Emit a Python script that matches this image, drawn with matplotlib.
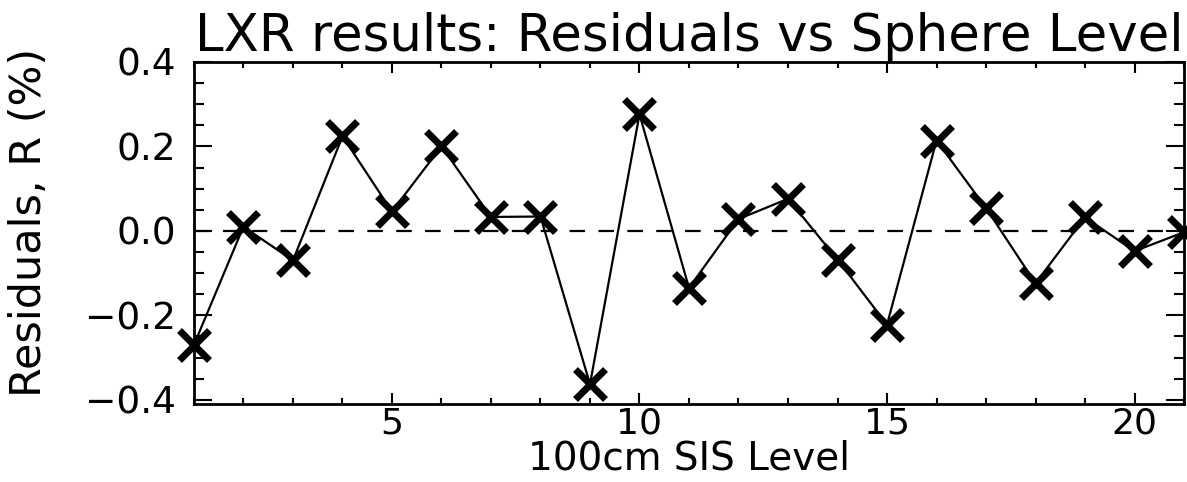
import matplotlib
matplotlib.use("Agg")
import matplotlib.pyplot as plt
from matplotlib.ticker import MultipleLocator

# residuals per sphere level
levels = list(range(1, 22))
residuals = [-0.27, 0.01, -0.07, 0.224, 0.046, 0.20, 0.033, 0.034, -0.363, 0.276,
             -0.135, 0.028, 0.076, -0.068, -0.222, 0.214, 0.054, -0.124, 0.032,
             -0.048, -0.003]

x_ticks = [5, 10, 15, 20]
y_ticks = [-0.4, -0.2, 0.0, 0.2, 0.4]
y_ticklabels = ["\u22120.4", "\u22120.2", "0.0", "0.2", "0.4"]

fig = plt.figure(figsize=(11.87, 4.82), dpi=100)
ax = fig.add_axes([0.1634, 0.1618, 0.8341, 0.7096])

ax.axhline(0.0, color="black", lw=1.6, dashes=(7, 6), zorder=1)
ax.plot(levels, residuals, color="black", lw=1.6, marker="x",
        markersize=21, markeredgewidth=5, clip_on=False, zorder=3)

ax.set_xlim(1, 21)
ax.set_ylim(-0.41, 0.4)
ax.set_xticks(x_ticks)
ax.set_yticks(y_ticks)
ax.set_yticklabels(y_ticklabels)
ax.xaxis.set_minor_locator(MultipleLocator(1))
ax.yaxis.set_minor_locator(MultipleLocator(0.05))

ax.tick_params(axis="both", which="both", direction="in",
               top=True, right=True, width=1.5)
ax.tick_params(axis="x", which="major", length=8, labelsize=26, pad=2)
ax.tick_params(axis="x", which="minor", length=4)
ax.tick_params(axis="y", which="major", length=13, labelsize=27, pad=13)
ax.tick_params(axis="y", which="minor", length=7)
for s in ax.spines.values():
    s.set_linewidth(2)

ax.set_title("LXR results: Residuals vs Sphere Level", fontsize=37, pad=1)
ax.set_xlabel("100cm SIS Level", fontsize=28, labelpad=-1)
ax.set_ylabel("Residuals, R (%)", fontsize=31)
ax.yaxis.set_label_coords(-0.145, 0.53)

fig.savefig("out.png", dpi=100)
